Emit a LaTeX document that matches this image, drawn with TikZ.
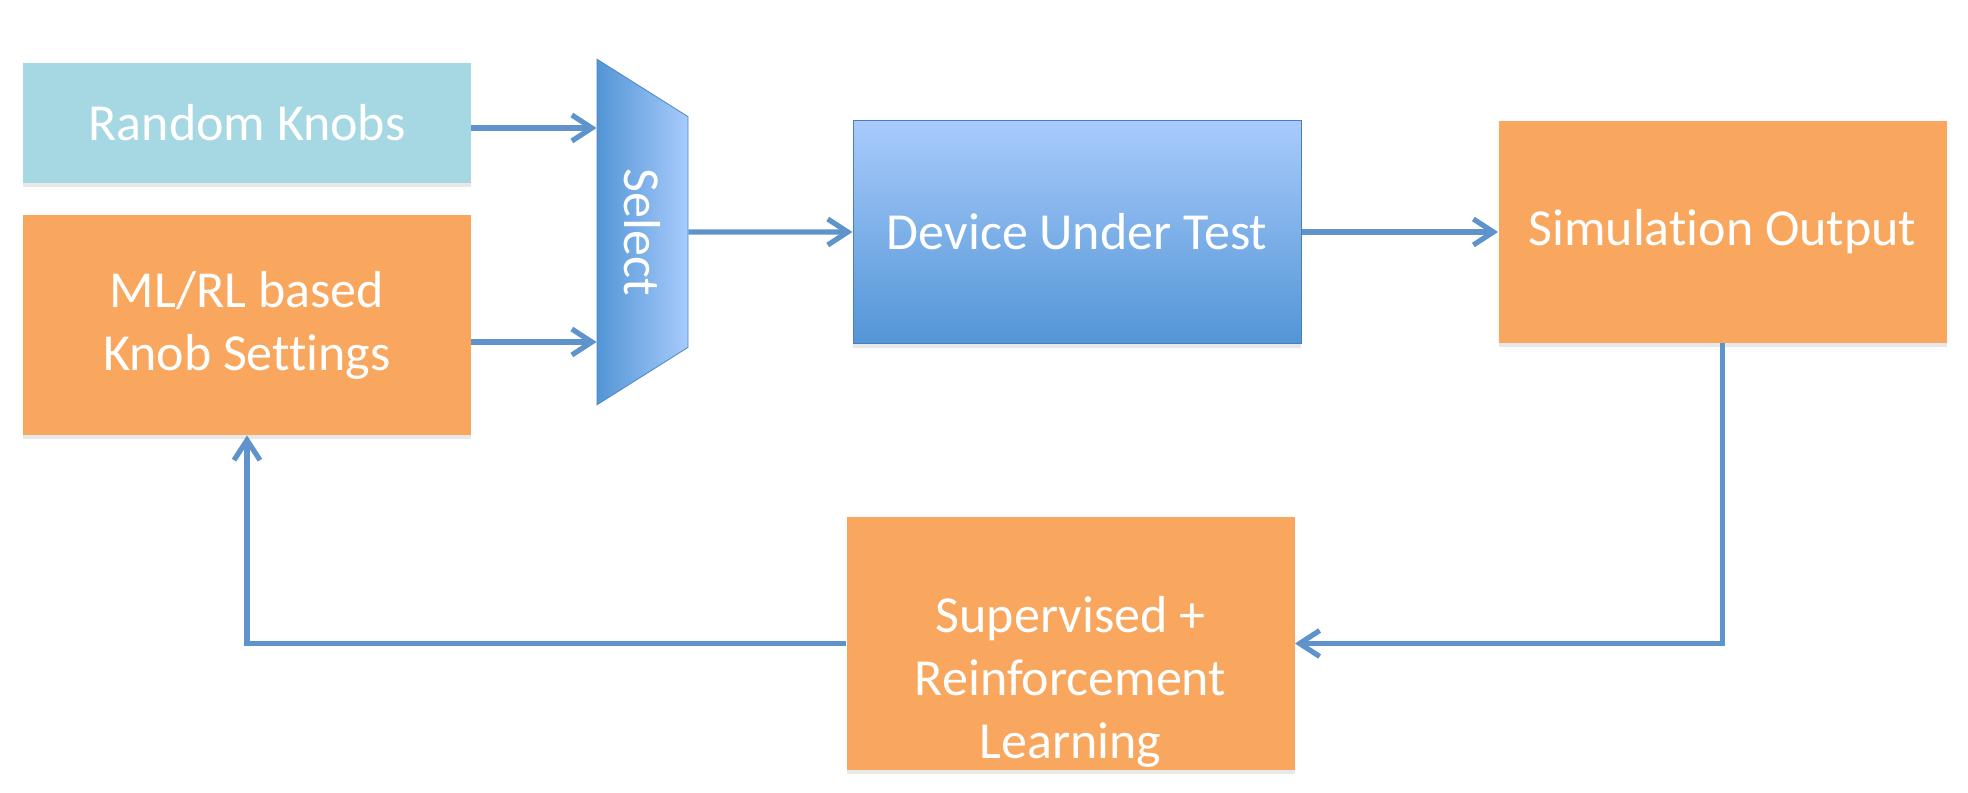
\documentclass[tikz,border=0pt]{standalone}
\usepackage{fontspec}
\usepackage{tikz}
\usetikzlibrary{shapes.geometric, arrows.meta, shadows}
\newfontfamily\boxfont{Carlito}[Ligatures=NoCommon]
\definecolor{knobblue}{HTML}{A6D8E3}
\definecolor{boxorange}{HTML}{F9A75E}
\definecolor{duttop}{HTML}{A8CBFB}
\definecolor{dutbottom}{HTML}{5395D6}
\definecolor{flowblue}{HTML}{5E93CC}
\tikzset{
    box-text/.style = {text=white, align=center, font=\boxfont\fontsize{26}{31.5}\selectfont},
    plain-box/.style = {box-text, rectangle, minimum width=224pt, drop shadow={opacity=0.18, shadow xshift=0pt, shadow yshift=-2pt}},
    knob-box/.style = {plain-box, fill=knobblue, minimum height=60pt},
    orange-box/.style = {plain-box, fill=boxorange},
    dut-box/.style = {plain-box, top color=duttop, bottom color=dutbottom, draw=dutbottom!85!black, line width=0.5pt},
    select-box/.style = {box-text, trapezium, trapezium angle=55, trapezium stretches=true, rotate=-90, minimum width=173pt, minimum height=45.5pt, left color=dutbottom, right color=duttop, draw=dutbottom!90!black, line width=0.4pt},
    flow-arrow/.style = {draw=flowblue, line width=2.6pt, -{Straight Barb[length=10pt, width=13pt]}},
}
\begin{document}
\begin{tikzpicture}[x=0.5pt, y=-0.5pt]
\useasboundingbox (0,0) rectangle (1968,792);
\node[knob-box] (random) at (247,123) {Random Knobs};
\node[orange-box, minimum height=110pt] (mlrl) at (247,325) {ML/RL based\\Knob Settings};
\node[select-box] (select) at (642.5,232) {Select};
\node[dut-box, minimum height=111.5pt] (dut) at (1077,232) {Device Under Test};
\node[orange-box, minimum height=111pt] (sim) at (1722.5,232) {Simulation Output};
\node[orange-box, minimum height=126.5pt] (learn) at (1070.5,643.5) {};
\node[box-text] (learn-text) at (1070.5,682) {Supervised +\\Reinforcement\\Learning};
\coordinate (random-out) at ([yshift=-2.5pt]random.east);
\coordinate (mlrl-out) at ([yshift=-8.5pt]mlrl.east);
\draw[flow-arrow] (random-out) -- (random-out -| select.south);
\draw[flow-arrow] (mlrl-out) -- (mlrl-out -| select.south);
\draw[flow-arrow] (select.north) -- (dut.west);
\draw[flow-arrow] (dut.east) -- (sim.west);
\draw[flow-arrow] (sim.south) |- (learn.east);
\draw[flow-arrow] (learn.west) -| (mlrl.south);
\end{tikzpicture}
\end{document}
